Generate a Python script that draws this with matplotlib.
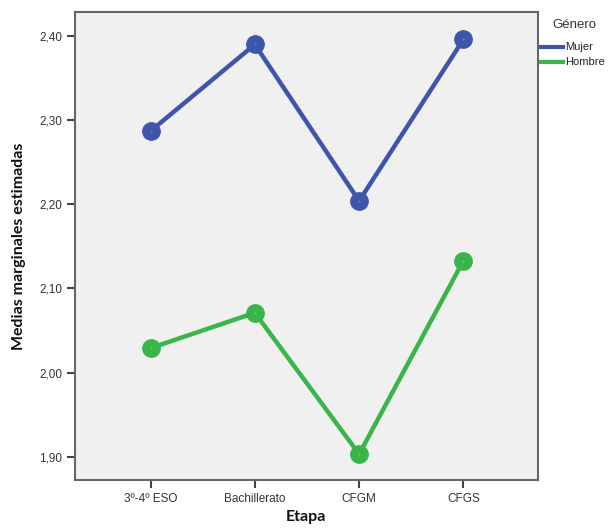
import matplotlib
matplotlib.use("Agg")
import matplotlib.pyplot as plt
from matplotlib.lines import Line2D

categories = ["3º-4º ESO", "Bachillerato", "CFGM", "CFGS"]
mujer = [2.287, 2.390, 2.204, 2.396]
hombre = [2.029, 2.071, 1.903, 2.133]
yticks = [1.90, 2.00, 2.10, 2.20, 2.30, 2.40]
ytick_labels = ["1,90", "2,00", "2,10", "2,20", "2,30", "2,40"]
legend_title = "Género"
series_names = ["Mujer", "Hombre"]

blue = "#3d56ab"
green = "#39b54a"

W, H = 608, 528
fig = plt.figure(figsize=(W/100, H/100), dpi=100)
fig.patch.set_facecolor("white")
ax = fig.add_axes([75/W, 48/H, (537.5-75)/W, (480-12)/H])
ax.set_facecolor("#f0f0f0")

x = list(range(len(categories)))
for vals, col, dot in [(mujer, blue, "#6f84c4"), (hombre, green, "#7bcf85")]:
    ax.plot(x, vals, color=col, lw=3.2, marker="o", markersize=12.5,
            solid_capstyle="round", zorder=3)
    ax.plot(x, vals, ls="none", marker="o", markersize=1.3, color=dot,
            markeredgewidth=0, zorder=4)

ax.set_xlim(-0.724, 3.71)
ax.set_ylim(1.8722, 2.4286)
ax.set_xticks(x)
ax.set_xticklabels(categories, fontfamily="Liberation Sans", fontsize=8.5, color="#333333")
ax.set_yticks(yticks)
ax.set_yticklabels(ytick_labels, fontfamily="Liberation Sans", fontsize=8.5, color="#333333")
ax.tick_params(axis="both", direction="out", length=6, width=1.5, color="#444444", pad=3)
for s in ax.spines.values():
    s.set_color("#666666")
    s.set_linewidth(1.5)

ax.set_xlabel("Etapa", fontfamily="Lato", fontweight="bold", fontsize=11.5, color="#111111", labelpad=4)
ax.set_ylabel("Medias marginales estimadas", fontfamily="Lato", fontweight="bold", fontsize=11.5, color="#111111", labelpad=10)

# legend drawn outside the axes, on the right
fig.text(552/W, 1 - 25/H, legend_title, fontfamily="Liberation Sans", fontsize=9.5,
         color="#333333", va="center", ha="left")
for i, (name, col) in enumerate(zip(series_names, [blue, green])):
    yy = 1 - (47 + 15*i)/H
    fig.add_artist(Line2D([541/W, 563/W], [yy, yy], color=col, lw=3, transform=fig.transFigure))
    fig.text(565/W, yy, name, fontfamily="Liberation Sans", fontsize=8,
             color="#222222", va="center", ha="left")

fig.savefig("out.png", dpi=100)
